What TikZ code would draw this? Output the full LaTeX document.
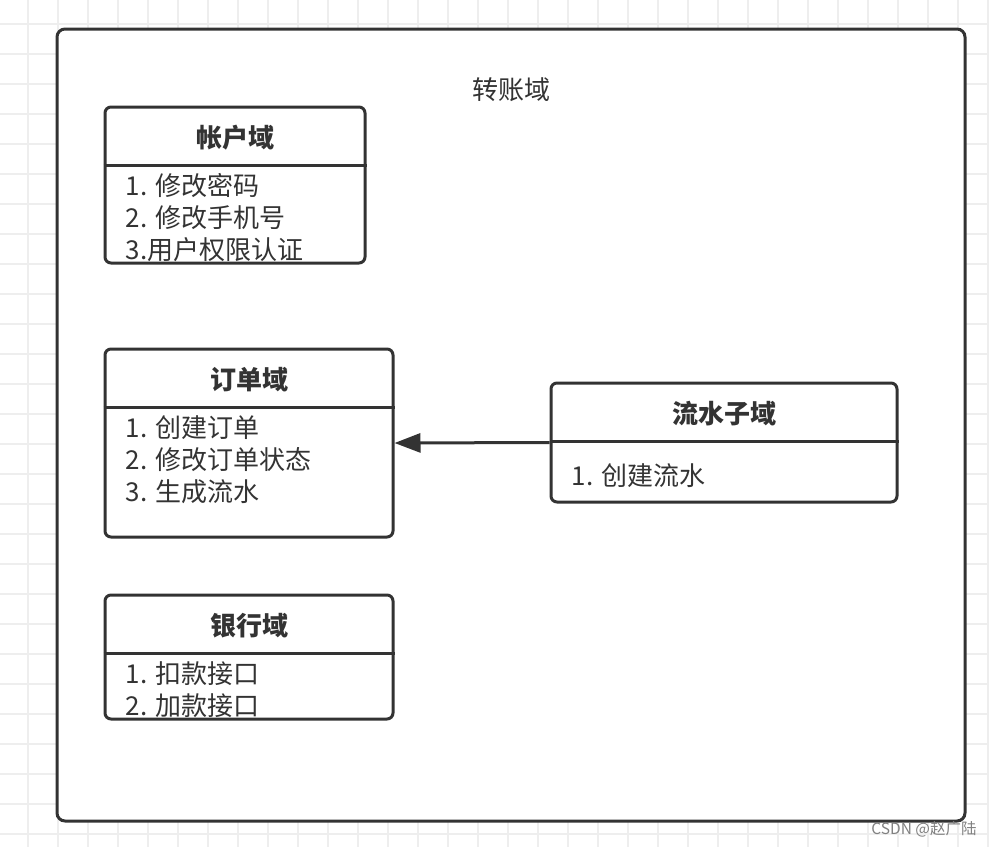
\documentclass[tikz,border=0pt]{standalone}
\usepackage{fontspec}
\setmainfont{Noto Sans CJK SC}
\usetikzlibrary{arrows.meta,positioning}

\definecolor{inkgray}{HTML}{333333}
\definecolor{gridgray}{HTML}{EEEEEE}

\tikzset{
  domainbox/.style={draw=inkgray, fill=white, line width=3pt, rounded corners=6pt},
  headline/.style={draw=inkgray, line width=3pt},
  boxtitle/.style={font=\fontsize{26}{32}\selectfont\bfseries, text=inkgray, minimum height=60pt,
    text height=25pt, text depth=2pt, inner sep=0pt, outer sep=0pt},
  items/.style={font=\fontsize{26}{32}\selectfont, text=inkgray, align=left, inner sep=0pt},
  gridline/.style={draw=gridgray, line width=1.5pt},
  conn/.style={draw=inkgray, line width=3pt, -{Triangle[length=26pt,width=19pt]}},
}

\begin{document}
\begin{tikzpicture}[x=1pt, y=-1pt]
  \useasboundingbox (0,0) rectangle (989,847);
  % grid
  \foreach \x in {28,58,...,988} \draw[gridline] (\x,0) -- (\x,847);
  \foreach \y in {24,54,...,846} \draw[gridline] (0,\y) -- (989,\y);

  % outer domain
  \node[domainbox, rounded corners=8pt, minimum width=908pt, minimum height=792pt] (transfer) at (511,425) {};
  \node[items] (transferT) at (511,90) {转账域};

  % sub domains
  \node[domainbox, minimum width=260pt, minimum height=156pt] (acct)  at (235,185)   {};
  \node[domainbox, minimum width=288pt, minimum height=188pt] (order) at (249,443)   {};
  \node[domainbox, minimum width=288pt, minimum height=124pt] (bank)  at (249,657)   {};
  \node[domainbox, minimum width=346pt, minimum height=119pt] (flow)  at (724,442.5) {};

  \node[boxtitle] (acctT)  [below=0pt of acct.north]  {帐户域};
  \node[boxtitle] (orderT) [below=0pt of order.north] {订单域};
  \node[boxtitle] (bankT)  [below=0pt of bank.north]  {银行域};
  \node[boxtitle] (flowT)  [below=0pt of flow.north]  {流水子域};

  \draw[headline] (acctT.south -| acct.west)   -- (acctT.south -| acct.east);
  \draw[headline] (orderT.south -| order.west) -- (orderT.south -| order.east);
  \draw[headline] (bankT.south -| bank.west)   -- (bankT.south -| bank.east);
  \draw[headline] (flowT.south -| flow.west)   -- (flowT.south -| flow.east);

  \node[items] (acctL)  [below right=8pt and 22pt of acctT.south -| acct.west]   {1. 修改密码\\2. 修改手机号\\3.用户权限认证};
  \node[items] (orderL) [below right=8pt and 22pt of orderT.south -| order.west] {1. 创建订单\\2. 修改订单状态\\3. 生成流水};
  \node[items] (bankL)  [below right=8pt and 22pt of bankT.south -| bank.west]   {1. 扣款接口\\2. 加款接口};
  \node[items] (flowL)  [below right=22pt and 22pt of flowT.south -| flow.west]  {1. 创建流水};

  \draw[conn] (flow.west) -- (order.east);

  \node[font=\fontsize{15.5}{18}\selectfont, text=gray, inner sep=0pt] (mark) at (924,829) {CSDN @赵广陆};
\end{tikzpicture}
\end{document}
